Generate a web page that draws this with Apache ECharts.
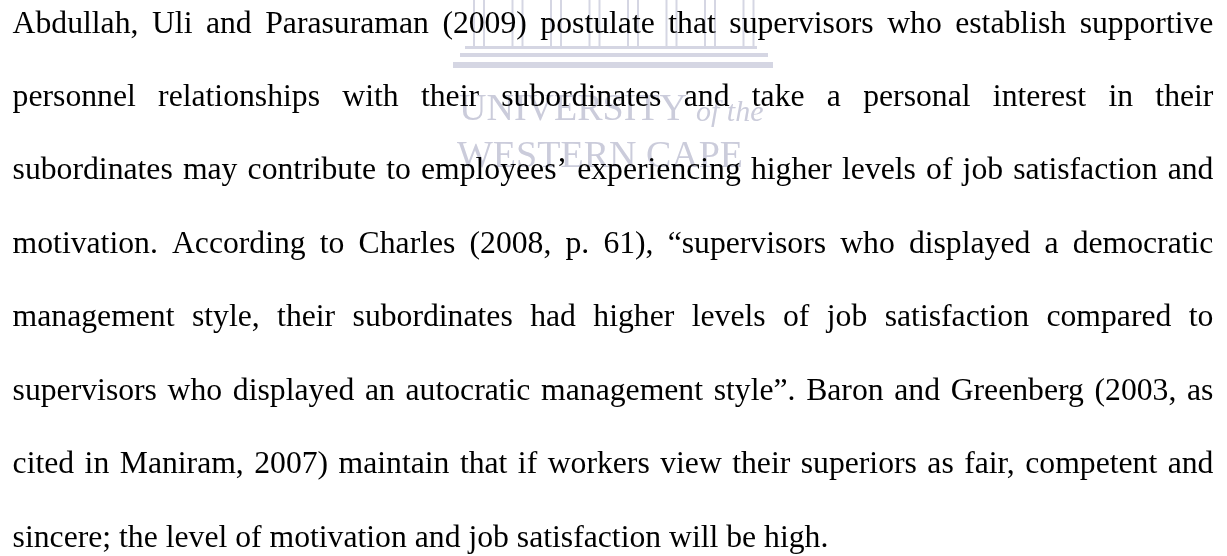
<!DOCTYPE html>
<html><head><meta charset="utf-8">
<script src="https://cdn.jsdelivr.net/npm/echarts@6/dist/echarts.min.js"></script>
<style>html,body{margin:0;padding:0;background:#fff}#c{width:1227px;height:556px}</style>
</head><body><div id="c"></div>
<script>
// Paragraph content (one entry per printed line)
const paragraphLines = [
  'Abdullah, Uli and Parasuraman (2009) postulate that supervisors who establish supportive',
  'personnel relationships with their subordinates and take a personal interest in their',
  'subordinates may contribute to employees\u2019 experiencing higher levels of job satisfaction and',
  'motivation. According to Charles (2008, p. 61), \u201csupervisors who displayed a democratic',
  'management style, their subordinates had higher levels of job satisfaction compared to',
  'supervisors who displayed an autocratic management style\u201d. Baron and Greenberg (2003, as',
  'cited in Maniram, 2007) maintain that if workers view their superiors as fair, competent and',
  'sincere; the level of motivation and job satisfaction will be high.'
];
// Watermark labels
const crestTitle = 'UNIVERSITY';
const crestSub = 'of the';
const crestName = 'WESTERN CAPE';
const pillarCount = 8;

const FAMILY = '"Liberation Serif","Times New Roman",serif';
const FONT = '31.7px ' + FAMILY;
const LEFT = 12.6, RIGHT = 1213.4;
const FIRST_BASE = 35, LINE_GAP = 73.43;
const MID_OFF = 10.7;

const ctx = document.createElement('canvas').getContext('2d');
ctx.font = FONT;
const spaceW = ctx.measureText(' ').width;

const elements = [];
const wm = '#d5d6e3', wmText = '#cbccdb';
// pillars
for (let k = 0; k < pillarCount; k++) {
  const cx = 479 + k * 38.5;
  [-5, 5].forEach(d => elements.push({type:'line', silent:true, z:1,
    shape:{x1:cx + d, y1:0, x2:cx + d, y2:46}, style:{stroke:wm, lineWidth:2}}));
}
// steps
[[465,46,292,3],[460,53,308,4],[453,62,320,6]].forEach(r => elements.push({type:'rect', silent:true, z:1,
  shape:{x:r[0], y:r[1], width:r[2], height:r[3]}, style:{fill:wm}}));
// crest text
elements.push({type:'text', z:1, x:459, y:123 - 38*0.3375, style:{text:crestTitle, font:'38px ' + FAMILY, fill:wmText, verticalAlign:'middle'}});
elements.push({type:'text', z:1, x:696, y:123 - 30*0.3375, style:{text:crestSub, font:'italic 30px ' + FAMILY, fill:wmText, verticalAlign:'middle'}});
elements.push({type:'text', z:1, x:457, y:170 - 38*0.3375, style:{text:crestName, font:'38px ' + FAMILY, fill:wmText, verticalAlign:'middle'}});

// paragraph words, justified except last line
paragraphLines.forEach((line, i) => {
  const words = line.split(' ');
  const ws = words.map(w => ctx.measureText(w).width);
  const sum = ws.reduce((a, b) => a + b, 0);
  const last = i === paragraphLines.length - 1;
  const gap = last ? spaceW : (RIGHT - LEFT - sum) / (words.length - 1);
  let x = LEFT;
  const base = FIRST_BASE + i * LINE_GAP;
  words.forEach((w, j) => {
    elements.push({type:'text', z:10, x:x, y:base - MID_OFF,
      style:{text:w, font:FONT, fill:'#000', verticalAlign:'middle', align:'left'}});
    x += ws[j] + gap;
  });
});

const chart = echarts.init(document.getElementById('c'), null, {renderer:'canvas'});
chart.setOption({backgroundColor:'#fff', animation:false, graphic:{elements:elements}});
</script></body></html>
